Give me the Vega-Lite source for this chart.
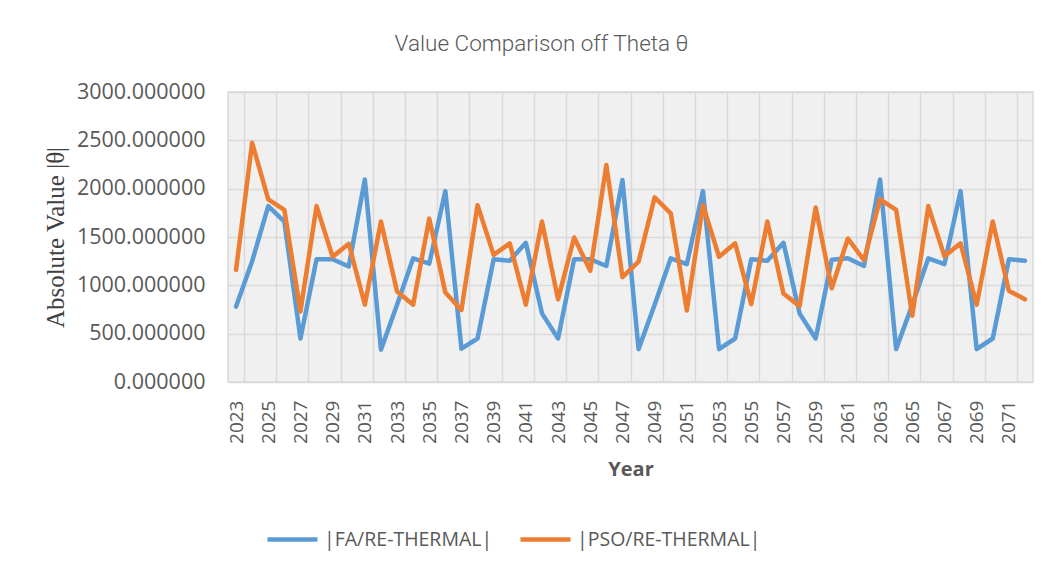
{
  "$schema": "https://vega.github.io/schema/vega-lite/v6.json",
  "width": 805,
  "height": 290,
  "autosize": "none",
  "padding": {"left": 228, "top": 92, "right": 19, "bottom": 190},
  "background": "white",
  "config": {
    "view": {"fill": "#f0f0f0", "stroke": "#d9d9d9", "strokeWidth": 1.5},
    "axis": {"labelFont": "Open Sans", "labelColor": "#595959", "titleColor": "#595959", "domain": false, "ticks": false, "tickSize": 0},
    "axisX": {"labelAngle": -90, "labelFontSize": 19, "labelPadding": 18, "labelOverlap": false, "labelBound": false, "labelFlush": false, "titleFont": "Open Sans", "titleFontWeight": "bold", "titleFontSize": 20, "titlePadding": 16},
    "axisY": {"labelFontSize": 21.5, "labelPadding": 23, "labelOverlap": false, "gridColor": "#d9d9d9", "gridWidth": 1.5, "titleFont": "Liberation Serif", "titleFontSize": 25, "titleFontWeight": "normal", "titlePadding": 8, "titleColor": "#404040"}
  },
  "title": {
    "text": "Value Comparison off Theta θ",
    "font": "Roboto",
    "fontSize": 22.5,
    "fontWeight": 300,
    "color": "#595959",
    "anchor": "middle",
    "frame": "group",
    "dx": -89,
    "baseline": "alphabetic",
    "offset": 8
  },
  "data": {
    "values": [
      {"Year": 2023, "FA": 780, "PSO": 1160},
      {"Year": 2024, "FA": 1250, "PSO": 2475},
      {"Year": 2025, "FA": 1820, "PSO": 1890},
      {"Year": 2026, "FA": 1660, "PSO": 1780},
      {"Year": 2027, "FA": 450, "PSO": 730},
      {"Year": 2028, "FA": 1270, "PSO": 1820},
      {"Year": 2029, "FA": 1270, "PSO": 1295},
      {"Year": 2030, "FA": 1195, "PSO": 1430},
      {"Year": 2031, "FA": 2095, "PSO": 800},
      {"Year": 2032, "FA": 335, "PSO": 1660},
      {"Year": 2033, "FA": 800, "PSO": 935},
      {"Year": 2034, "FA": 1280, "PSO": 800},
      {"Year": 2035, "FA": 1225, "PSO": 1690},
      {"Year": 2036, "FA": 1975, "PSO": 925},
      {"Year": 2037, "FA": 345, "PSO": 745},
      {"Year": 2038, "FA": 450, "PSO": 1830},
      {"Year": 2039, "FA": 1270, "PSO": 1315},
      {"Year": 2040, "FA": 1255, "PSO": 1435},
      {"Year": 2041, "FA": 1440, "PSO": 800},
      {"Year": 2042, "FA": 710, "PSO": 1660},
      {"Year": 2043, "FA": 450, "PSO": 855},
      {"Year": 2044, "FA": 1270, "PSO": 1495},
      {"Year": 2045, "FA": 1270, "PSO": 1150},
      {"Year": 2046, "FA": 1200, "PSO": 2245},
      {"Year": 2047, "FA": 2090, "PSO": 1085},
      {"Year": 2048, "FA": 340, "PSO": 1245},
      {"Year": 2049, "FA": 800, "PSO": 1910},
      {"Year": 2050, "FA": 1280, "PSO": 1745},
      {"Year": 2051, "FA": 1220, "PSO": 740},
      {"Year": 2052, "FA": 1975, "PSO": 1830},
      {"Year": 2053, "FA": 340, "PSO": 1295},
      {"Year": 2054, "FA": 450, "PSO": 1435},
      {"Year": 2055, "FA": 1270, "PSO": 805},
      {"Year": 2056, "FA": 1255, "PSO": 1660},
      {"Year": 2057, "FA": 1440, "PSO": 915},
      {"Year": 2058, "FA": 710, "PSO": 785},
      {"Year": 2059, "FA": 450, "PSO": 1805},
      {"Year": 2060, "FA": 1265, "PSO": 970},
      {"Year": 2061, "FA": 1280, "PSO": 1485},
      {"Year": 2062, "FA": 1200, "PSO": 1260},
      {"Year": 2063, "FA": 2095, "PSO": 1890},
      {"Year": 2064, "FA": 340, "PSO": 1780},
      {"Year": 2065, "FA": 800, "PSO": 685},
      {"Year": 2066, "FA": 1280, "PSO": 1820},
      {"Year": 2067, "FA": 1220, "PSO": 1300},
      {"Year": 2068, "FA": 1975, "PSO": 1435},
      {"Year": 2069, "FA": 340, "PSO": 800},
      {"Year": 2070, "FA": 450, "PSO": 1660},
      {"Year": 2071, "FA": 1270, "PSO": 945},
      {"Year": 2072, "FA": 1255, "PSO": 855}
    ]
  },
  "transform": [{"fold": ["FA", "PSO"], "as": ["series", "value"]}],
  "mark": {"type": "line", "strokeWidth": 4.5, "strokeJoin": "round", "strokeCap": "round"},
  "encoding": {
    "x": {
      "field": "Year", "type": "ordinal", "title": "Year",
      "scale": {"paddingInner": 0, "paddingOuter": 0},
      "axis": {
        "grid": true,
        "tickBand": "extent",
        "gridColor": "#d9d9d9",
        "gridWidth": 1.5,
        "gridOpacity": {"condition": {"test": "datum.value % 2 == 1", "value": 1}, "value": 0},
        "labelExpr": "datum.value % 2 == 1 ? datum.label : ''"
      }
    },
    "y": {
      "field": "value", "type": "quantitative", "title": "Absolute Value |θ|",
      "scale": {"domain": [0, 3000], "nice": false},
      "axis": {"values": [0, 500, 1000, 1500, 2000, 2500, 3000], "format": ".6f"}
    },
    "color": {
      "field": "series", "type": "nominal",
      "scale": {"domain": ["FA", "PSO"], "range": ["#5B9BD5", "#ED7D31"]},
      "legend": {
        "title": null, "orient": "none", "legendX": 37, "legendY": 420, "direction": "horizontal",
        "symbolType": "stroke", "symbolSize": 2500, "symbolStrokeWidth": 4.5,
        "labelFont": "Open Sans", "labelFontSize": 19.5, "labelColor": "#595959", "labelLimit": 400,
        "labelOffset": 4, "columnPadding": 18,
        "labelExpr": "datum.label == 'FA' ? '|FA/RE-THERMAL|' : '|PSO/RE-THERMAL|'"
      }
    }
  }
}
